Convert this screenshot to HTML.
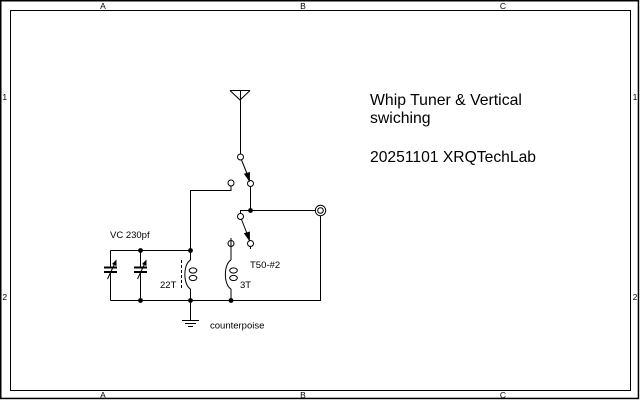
<!DOCTYPE html>
<html><head><meta charset="utf-8"><style>
html,body{margin:0;padding:0;background:#fff;}
svg{display:block;}
text{font-family:"Liberation Sans",sans-serif;fill:#000;}
</style></head><body>
<svg width="640" height="400" viewBox="0 0 640 400" xmlns="http://www.w3.org/2000/svg">
<rect x="0" y="0" width="640" height="400" fill="#fff"/>
<!-- frame -->
<rect x="0.75" y="0.75" width="637.7" height="397.7" fill="none" stroke="#000" stroke-width="1.5"/>
<rect x="10.5" y="10.5" width="620" height="380" fill="none" stroke="#000" stroke-width="1"/>
<g font-size="8.5" text-anchor="middle">
<text x="103" y="9">A</text><text x="303" y="9">B</text><text x="503" y="9">C</text>
<text x="103" y="398">A</text><text x="303" y="398">B</text><text x="503" y="398">C</text>
<text x="4.8" y="100">1</text><text x="4.8" y="300">2</text>
<text x="635" y="100">1</text><text x="635" y="300">2</text>
</g>

<g stroke="#000" stroke-width="1" fill="none">
<!-- antenna -->
<path d="M230,90.5 H250 M230,90.5 L240,100 L250,90.5 M240.5,90 V154"/>
<circle cx="240.5" cy="157" r="3" fill="#fff"/>
<!-- switch 1 arrow -->
<path d="M241.5,160 L248,176"/>
<circle cx="250.5" cy="183.5" r="3" fill="#fff"/>
<circle cx="231" cy="183" r="3" fill="#fff"/>
<path d="M231,186 V190.5 H190.5 V250"/>
<path d="M250.5,186.5 V210.5"/>
<!-- to coax -->
<path d="M250.5,210.5 H315"/>
<circle cx="320.5" cy="210.5" r="5.2" fill="#fff"/>
<circle cx="320.5" cy="210.5" r="2.8"/>
<path d="M320.5,215.7 V300.5 H110.5"/>
<!-- switch 2 -->
<path d="M250.5,210.5 H240.5 V213"/>
<circle cx="240.5" cy="216.5" r="3" fill="#fff"/>
<path d="M241.5,219.5 L248,236"/>
<circle cx="250.5" cy="243.5" r="3" fill="#fff"/>
<path d="M250.5,246.5 V249"/>
<!-- terminal 3T -->
<path d="M231,238 V259"/>
<circle cx="231" cy="243.5" r="3" fill="#fff"/>
<path d="M231,238 V250"/>
<!-- top rail -->
<path d="M110.5,250.5 H190.5"/>
<!-- capacitors -->
<path d="M110.5,250.5 V267 M110.5,272 V300.5"/>
<path d="M140.5,250.5 V267 M140.5,272 V300.5"/>
<!-- 22T coil -->
<path d="M190.5,250 V260 M190.5,289 V320"/>
<path d="M190.5,260 C183,264 183,285 190.5,289"/>
<ellipse cx="193" cy="270.5" rx="3.8" ry="2.6"/>
<ellipse cx="193" cy="278" rx="3.8" ry="2.6"/>
<path d="M181.5,260 V288" stroke-dasharray="3,2"/>
<!-- 3T coil -->
<path d="M231,259 V260 M231,289 V300.5"/>
<path d="M231,260 C223.5,264 223.5,285 231,289"/>
<ellipse cx="233.5" cy="270.5" rx="3.8" ry="2.6"/>
<ellipse cx="233.5" cy="278" rx="3.8" ry="2.6"/>
<!-- ground -->
<path d="M182,320.5 H199 M185,323.5 H196 M188,326.5 H193"/>
</g>
<!-- arrowheads -->
<g fill="#000" stroke="#000" stroke-width="0.8">
<path d="M249.5,181 L244.5,174 L249.5,172.5 Z"/>
<path d="M249.5,240.5 L244.5,233.5 L249.5,232 Z"/>
</g>
<!-- capacitor plates -->
<g stroke="#000" stroke-width="2" fill="none">
<path d="M104,267.5 H117 M104,272 H117"/>
<path d="M134,267.5 H147 M134,272 H147"/>
</g>
<g stroke="#000" stroke-width="1" fill="none">
<path d="M107.5,279 L115,263"/>
<path d="M137.5,279 L145,263"/>
</g>
<g fill="#000">
<path d="M116.5,259.5 L112,264 L116.5,266 Z"/>
<path d="M146.5,259.5 L142,264 L146.5,266 Z"/>
<circle cx="140.5" cy="250.5" r="2.4"/>
<circle cx="190.5" cy="250.5" r="2.4"/>
<circle cx="140.5" cy="300.5" r="2.4"/>
<circle cx="190.5" cy="300.5" r="2.4"/>
<circle cx="231" cy="300.5" r="2.4"/>
<circle cx="250.5" cy="210.5" r="2.4"/>
</g>
<!-- labels -->
<g font-size="9.5">
<text x="110" y="238">VC 230pf</text>
<text x="160" y="288">22T</text>
<text x="240" y="288">3T</text>
<text x="250" y="268">T50-#2</text>
<text x="210" y="328.5">counterpoise</text>
</g>
<g font-size="15.8">
<text x="370" y="105">Whip Tuner &amp; Vertical</text>
<text x="370" y="123">swiching</text>
<text x="370" y="162" textLength="166" lengthAdjust="spacingAndGlyphs">20251101 XRQTechLab</text>
</g>
</svg>
</body></html>
